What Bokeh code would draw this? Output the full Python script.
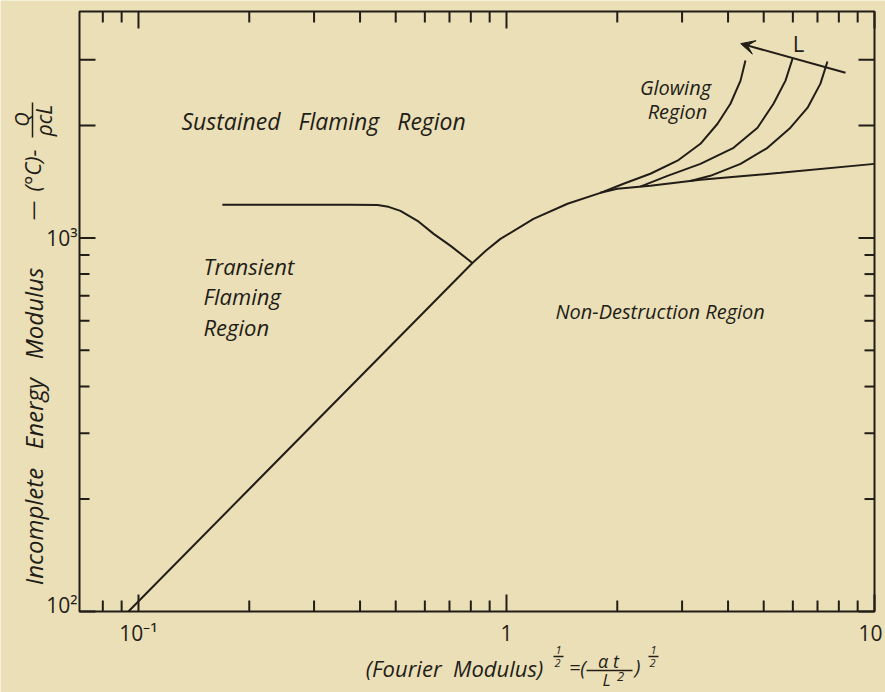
import math
from bokeh.plotting import figure
from bokeh.models import Label, Arrow, VeeHead
from bokeh.core.properties import value
from bokeh.embed import file_html
from bokeh.resources import INLINE

# ---- data (log-log chart of ignition regimes) ----
# boundary between non-destruction region and flaming / glowing regions
boundary_x = [0.0939, 0.808, 0.88, 0.963, 1.184, 1.465, 1.80, 2.0, 2.46, 3.365, 5.55, 10.0]
boundary_y = [100, 857, 925, 994, 1124, 1234, 1320, 1353, 1379, 1431, 1493, 1578]

# boundary between transient and sustained flaming
transient_x = [0.169, 0.276, 0.377, 0.446, 0.478, 0.515, 0.573, 0.634, 0.705, 0.808]
transient_y = [1226, 1226, 1226, 1224, 1211, 1181, 1111, 1025, 952, 857]

# glowing-region branches for three thicknesses L
glow1_x = [1.80, 2.08, 2.46, 2.915, 3.365, 3.745, 4.06, 4.325, 4.46]
glow1_y = [1320, 1396, 1485, 1609, 1786, 2021, 2286, 2636, 2983]
glow2_x = [2.31, 2.738, 3.365, 4.14, 4.81, 5.315, 5.73, 5.99]
glow2_y = [1371, 1466, 1578, 1742, 1972, 2286, 2636, 3020]
glow3_x = [3.16, 3.58, 4.325, 5.12, 5.91, 6.58, 7.13, 7.45]
glow3_y = [1420, 1466, 1578, 1742, 1972, 2231, 2588, 2965]

# direction of increasing L
arrow_x = [8.34, 4.33]
arrow_y = [2767, 3311]

# axis limits and ticks
x_limits = [0.06914, 10.0]
y_limits = [100.0, 4036.0]
x_major = [0.1, 1, 10]
x_minor = [0.08, 0.09, 0.2, 0.3, 0.4, 0.5, 0.6, 0.7, 0.8, 0.9, 2, 3, 4, 5, 6, 7, 8, 9]
x_tick_labels = ["10\u207b\u00b9", "1", "10"]
y_major = [100, 1000, 2000, 3000]
y_minor = [200, 300, 400, 500, 600, 700, 800, 900]
y_labeled = [100, 1000]
y_tick_labels = ["10\u00b2", "10\u00b3"]

# ---- page geometry ----
INK = "#221d17"
PAPER = "#ebdfb7"
FONT = "Open Sans"
W, H = 885, 692
BOX_L, BOX_R, BOX_T, BOX_B = 79, 874, 11, 611       # plot box in canvas pixels
DEC_X = (BOX_R - BOX_L) / (math.log10(x_limits[1]) - math.log10(x_limits[0]))
DEC_Y = (BOX_B - BOX_T) / (math.log10(y_limits[1]) - math.log10(y_limits[0]))

# the frame fills the whole canvas, so the log ranges reach past the plot box
x_lo = 10 ** (math.log10(x_limits[0]) - BOX_L / DEC_X)
x_hi = 10 ** (math.log10(x_limits[1]) + (W - BOX_R) / DEC_X)
y_lo = 10 ** (math.log10(y_limits[0]) - (H - BOX_B) / DEC_Y)
y_hi = 10 ** (math.log10(y_limits[1]) + BOX_T / DEC_Y)

p = figure(width=W, height=H, x_axis_type="log", y_axis_type="log",
           x_range=(x_lo, x_hi), y_range=(y_lo, y_hi),
           x_axis_location=None, y_axis_location=None,
           output_backend="svg", toolbar_location=None, min_border=0)
p.background_fill_color = PAPER
p.border_fill_color = PAPER
p.outline_line_color = None
p.grid.visible = False


def shift_x(x, px):
    return x * 10 ** (px / DEC_X)


def shift_y(y, px):
    return y * 10 ** (px / DEC_Y)


# plot box
p.quad(left=[x_limits[0]], right=[x_limits[1]], bottom=[y_limits[0]], top=[y_limits[1]],
       fill_color=None, line_color=INK, line_width=2)


# inward ticks on all four sides
def x_ticks(values, length):
    n = len(values)
    p.segment(x0=values, x1=values, y0=[y_limits[0]] * n,
              y1=[shift_y(y_limits[0], length)] * n, line_color=INK, line_width=2)
    p.segment(x0=values, x1=values, y0=[y_limits[1]] * n,
              y1=[shift_y(y_limits[1], -length)] * n, line_color=INK, line_width=2)


def y_ticks(values, length):
    n = len(values)
    p.segment(y0=values, y1=values, x0=[x_limits[0]] * n,
              x1=[shift_x(x_limits[0], length)] * n, line_color=INK, line_width=2)
    p.segment(y0=values, y1=values, x0=[x_limits[1]] * n,
              x1=[shift_x(x_limits[1], -length)] * n, line_color=INK, line_width=2)


x_ticks(x_major, 17)
x_ticks(x_minor, 11)
y_ticks(y_major, 16)
y_ticks(y_minor, 10)

# tick labels (the last x label is nudged left so it stays on the page)
p.text(x=x_major, y=[shift_y(y_limits[0], -21)] * len(x_major), text=x_tick_labels,
       x_offset=[0, 0, -4],
       text_font=value(FONT), text_font_size=value("21px"), text_color=INK,
       text_align="center", text_baseline="middle")
p.text(x=[shift_x(x_limits[0], -2)] * len(y_labeled),
       y=[shift_y(y_labeled[0], 7), y_labeled[1]], text=y_tick_labels,
       text_font=value(FONT), text_font_size=value("21px"), text_color=INK,
       text_align="right", text_baseline="middle")

# ---- curves ----
for xs, ys in [(boundary_x, boundary_y), (transient_x, transient_y),
               (glow1_x, glow1_y), (glow2_x, glow2_y), (glow3_x, glow3_y)]:
    p.line(xs, ys, line_color=INK, line_width=2)

p.add_layout(Arrow(x_start=arrow_x[0], y_start=arrow_y[0],
                   x_end=arrow_x[1], y_end=arrow_y[1],
                   line_color=INK, line_width=2,
                   end=VeeHead(size=14, fill_color=INK, line_color=INK, line_width=1)))


def data_label(text, x, y, size=20, align="left", style="italic"):
    p.add_layout(Label(x=x, y=y, text=text, text_font=FONT, text_font_size=f"{size}px",
                       text_font_style=style, text_color=INK,
                       text_align=align, text_baseline="middle"))


def screen_label(text, px, py, size=20, angle=0.0, align="center", style="italic"):
    p.add_layout(Label(x=px, y=H - py, x_units="screen", y_units="screen",
                       text=text, text_font=FONT, text_font_size=f"{size}px",
                       text_font_style=style, text_color=INK, angle=angle,
                       text_align=align, text_baseline="middle"))


def screen_bar(px0, py0, px1, py1):
    p.add_layout(Arrow(x_start=px0, y_start=H - py0, x_end=px1, y_end=H - py1,
                       start_units="screen", end_units="screen", start=None, end=None,
                       line_color=INK, line_width=1.5))


SP = " \u00a0"          # wide word gap
SP3 = " \u00a0\u00a0"   # wider word gap

# region names
data_label(f"Sustained{SP3}Flaming{SP3}Region", 0.1308, 2059, size=23)
data_label("Transient", 0.1502, 841, size=22)
data_label("Flaming", 0.1502, 699, size=22)
data_label("Region", 0.1502, 577, size=22)
data_label("Non-Destruction Region", 1.359, 637)
data_label("Glowing", 2.879, 2524, align="center")
data_label("Region", 2.915, 2177, align="center")
data_label("L", 6.22, 3333, size=22, align="center", style="normal")

# x-axis title: (Fourier Modulus)^(1/2) = (alpha t / L^2)^(1/2)
screen_label(f"(Fourier{SP}Modulus)", 454, 667, size=22)
screen_label("1", 558, 649, size=11)
screen_bar(553, 656, 563, 656)
screen_label("2", 557, 662, size=11)
screen_label("=(", 577, 667, size=20)
screen_label("\u03b1 t", 608, 660, size=18)
screen_bar(586, 670, 632, 670)
screen_label("L", 606, 679, size=17)
screen_label("2", 620, 676, size=13)
screen_label(")", 637, 666, size=20)
screen_label("1", 653, 649, size=11)
screen_bar(648, 656, 658, 656)
screen_label("2", 652, 662, size=11)

# y-axis title: Incomplete Energy Modulus - (degC) - Q / (rho c L)
ROT = math.pi / 2
screen_label(f"Incomplete{SP3}Energy{SP3}Modulus", 33, 426, size=24, angle=ROT)
screen_label("\u2014", 32, 210, size=20, angle=ROT)
screen_label("(\u00b0C)-", 31, 170, size=22, angle=ROT)
screen_label("Q", 21, 119, size=20, angle=ROT)
screen_bar(32, 102, 32, 137)
screen_label("\u03c1cL", 43, 120, size=21, angle=ROT)

open("out.html", "w").write(file_html(p, INLINE))
